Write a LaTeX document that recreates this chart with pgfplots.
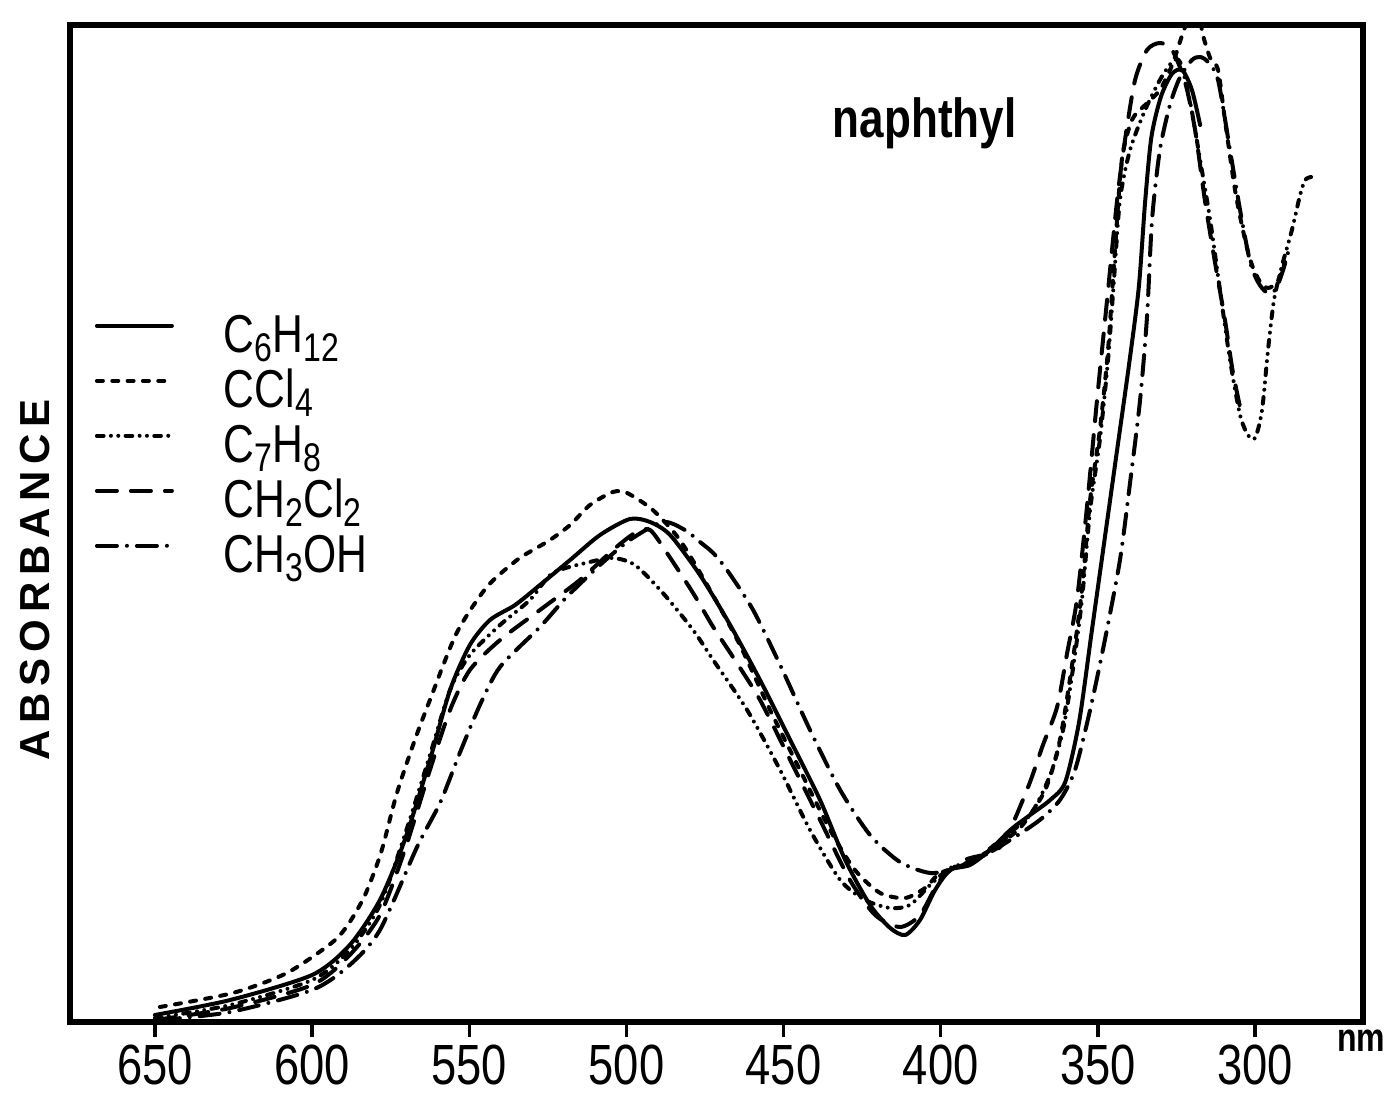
\documentclass[border=0pt]{standalone}
\usepackage{fontspec}
\setmainfont{Liberation Sans}
\newfontfamily\lett{Liberation Sans}[FakeStretch=0.8]
\usepackage{pgfplots}
\pgfplotsset{compat=1.18}
\newcommand\sub[1]{\raisebox{-2.8pt}{\fontsize{12}{12}\selectfont #1}}

\pgfplotstableread{
x y
650 0.007
626 0.022
600 0.047
588 0.077
578.4 0.122
570.5 0.182
562.5 0.262
556.1 0.332
549.8 0.377
543.4 0.402
535.4 0.417
527.5 0.437
517.9 0.462
508.4 0.487
498.9 0.503
492.5 0.500
486.1 0.487
476.6 0.447
467.0 0.397
457.5 0.342
447.9 0.282
438.4 0.222
430.4 0.162
422.5 0.117
416.1 0.094
411.3 0.087
406.6 0.102
401.8 0.132
397.0 0.152
390.7 0.157
384.3 0.172
377.9 0.192
371.6 0.207
365.2 0.222
360.4 0.240
356.0 0.300
352.0 0.390
348.0 0.480
344.0 0.570
340.0 0.660
337.0 0.735
335.0 0.820
333.0 0.885
330.0 0.925
326.5 0.948
323.2 0.952
320.1 0.932
317.5 0.897
}\chexane

\pgfplotstableread{
x y
648.4 0.015
625.2 0.029
608 0.049
593.4 0.080
588 0.100
583 0.128
578 0.170
573 0.229
567.3 0.282
562.5 0.322
554 0.389
544.4 0.435
534.8 0.462
529.7 0.472
524.3 0.482
517.9 0.497
511.6 0.517
504.3 0.530
499.8 0.529
491.6 0.512
483 0.482
473.4 0.432
463.9 0.377
454.3 0.312
444.8 0.252
435.2 0.192
427.3 0.152
419.3 0.129
411.3 0.124
405 0.134
400.2 0.149
392.3 0.157
384.3 0.172
374.8 0.194
366.8 0.232
362.1 0.282
358 0.362
355.1 0.432
352.5 0.522
349.4 0.592
346.8 0.672
344.6 0.772
342.4 0.862
339.2 0.902
335 0.917
330.3 0.932
326.4 0.957
323.2 0.987
320.8 1.007
318.5 1.017
316.6 0.987
314.3 0.964
311.8 0.952
309.6 0.902
306.4 0.832
303.2 0.782
301 0.757
298.4 0.740
295.9 0.734
293 0.740
290.5 0.760
}\ccl

\pgfplotstableread{
x y
650 0.004
626 0.017
600 0.042
588 0.072
578.4 0.117
570.5 0.187
562.5 0.267
556.1 0.332
549.8 0.367
540.2 0.397
530.7 0.422
523.4 0.449
511.6 0.460
504.3 0.464
497.3 0.457
488.4 0.429
478.8 0.392
472.4 0.362
461.6 0.312
451.1 0.252
441.6 0.192
432 0.142
424.1 0.122
416.1 0.114
409.8 0.117
403.4 0.137
397 0.154
389.1 0.162
381.1 0.182
371.6 0.207
365.2 0.247
361.1 0.292
358 0.352
355.1 0.422
352.5 0.512
349.4 0.582
346.8 0.662
344.9 0.742
343 0.822
339.8 0.872
335 0.912
330.3 0.942
326.4 0.960
323.9 0.960
320.8 0.922
317.5 0.862
314.3 0.802
311.2 0.732
308 0.662
304.8 0.607
302.3 0.587
300 0.584
297.8 0.612
295.9 0.672
294 0.722
291.4 0.757
288.3 0.792
285.7 0.827
284.1 0.842
282.2 0.845
}\toluene

\pgfplotstableread{
x y
650 0.002
626 0.014
600 0.037
588 0.067
578.4 0.107
570.5 0.172
562.5 0.252
556.1 0.312
549.8 0.352
540.2 0.382
527.5 0.412
514.8 0.442
504.3 0.472
497.3 0.489
492.5 0.492
487.1 0.469
478.8 0.429
472.4 0.395
466.1 0.365
457.5 0.322
447.9 0.262
438.4 0.202
428.9 0.142
420.9 0.107
413 0.095
406.6 0.107
400.2 0.142
392.3 0.162
381.1 0.175
372.6 0.232
367.5 0.277
363 0.315
359.8 0.369
356.7 0.422
353.5 0.515
350.3 0.622
347.1 0.722
343.9 0.822
341.4 0.882
338.2 0.942
334.4 0.972
330.3 0.979
326.4 0.972
322.3 0.940
319.1 0.892
316 0.822
312.9 0.762
309.6 0.702
307.2 0.652
304.6 0.612
}\dcm

\pgfplotstableread{
x y
648.4 0.002
626 0.010
600 0.032
588 0.057
578.4 0.092
566.6 0.175
559.3 0.219
553 0.269
546.6 0.317
540.2 0.355
527.5 0.395
519 0.425
508.4 0.457
498.9 0.482
488.4 0.500
481.4 0.492
476.6 0.480
472.4 0.469
468 0.452
459.7 0.412
451.1 0.357
441.6 0.292
432 0.232
422.5 0.187
413 0.160
403.4 0.149
395.4 0.154
385.9 0.167
377.9 0.182
368.5 0.202
362.1 0.222
357.3 0.252
352.5 0.312
347.8 0.382
343 0.462
339.8 0.539
336.6 0.622
334.4 0.705
332.8 0.802
330.3 0.872
327.1 0.917
324 0.944
320.1 0.962
317.5 0.965
315 0.960
311.8 0.942
308 0.872
304.8 0.812
301.6 0.760
299.1 0.740
296.5 0.730
293.6 0.732
291.1 0.752
288.9 0.777
}\meoh

\begin{document}
\begin{tikzpicture}
\useasboundingbox (-21pt,-22.5pt) rectangle (395.1pt,306.6pt);
\begin{axis}[
  scale only axis, width=387.9pt, height=299.1pt,
  x dir=reverse, xmin=265.7, xmax=677, ymin=0, ymax=0.997,
  xtick={300,350,...,650}, ytick=\empty, xtick pos=bottom,
  tick align=outside, major tick length=4.5pt,
  every tick/.style={line width=1pt, black},
  axis line style={line width=2pt},
  /pgf/number format/assume math mode=true,
  xticklabel style={font=\lett\fontsize{17}{17}\selectfont, inner sep=0pt, anchor=north, yshift=-2.2pt},
  clip mode=individual,
  legend cell align=left,
  legend style={at={(rel axis cs:0.0193,0.710)}, anchor=north west, draw=none, fill=none,
    inner sep=0pt, outer sep=0pt, row sep=0pt, column sep=15pt,
    font=\lett\fontsize{16}{16}\selectfont,
    nodes={inner sep=0pt, text height=11.5pt, text depth=5pt}},
  legend image code/.code={\draw[#1] (0pt,4.75pt) -- (22.5pt,4.75pt);},
  every axis plot/.append style={line width=1.2pt, line cap=round, line join=round, smooth, tension=0.45, black, no markers},
]
\addplot[solid] table {\chexane};
\addlegendentry{C\sub{6}H\sub{12}}
\addplot[dash pattern=on 1.8pt off 2.8pt] table {\ccl};
\addlegendentry{CCl\sub{4}}
\addplot[dash pattern=on 2pt off 2.2pt on 0pt off 2.2pt on 0pt off 2.2pt] table {\toluene};
\addlegendentry{C\sub{7}H\sub{8}}
\addplot[dash pattern=on 6pt off 4.2pt] table {\dcm};
\addlegendentry{CH\sub{2}Cl\sub{2}}
\addplot[dash pattern=on 6pt off 3pt on 0pt off 3pt] table {\meoh};
\addlegendentry{CH\sub{3}OH}

\node[font=\lett\bfseries\fontsize{16.5}{16.5}\selectfont, anchor=base] at (rel axis cs:0.661,0.887) {naphthyl};
\node[font=\bfseries\fontsize{12.6}{12.6}\selectfont, rotate=90] at (rel axis cs:-0.027,0.443)
  {A\kern2pt B\kern2pt S\kern2pt O\kern2pt R\kern2pt B\kern2pt A\kern2pt N\kern2pt C\kern2pt E};
\node[font=\lett\bfseries\fontsize{12}{12}\selectfont] at ([yshift=-5.7pt]rel axis cs:0.9985,0) {nm};
\end{axis}
\end{tikzpicture}
\end{document}
